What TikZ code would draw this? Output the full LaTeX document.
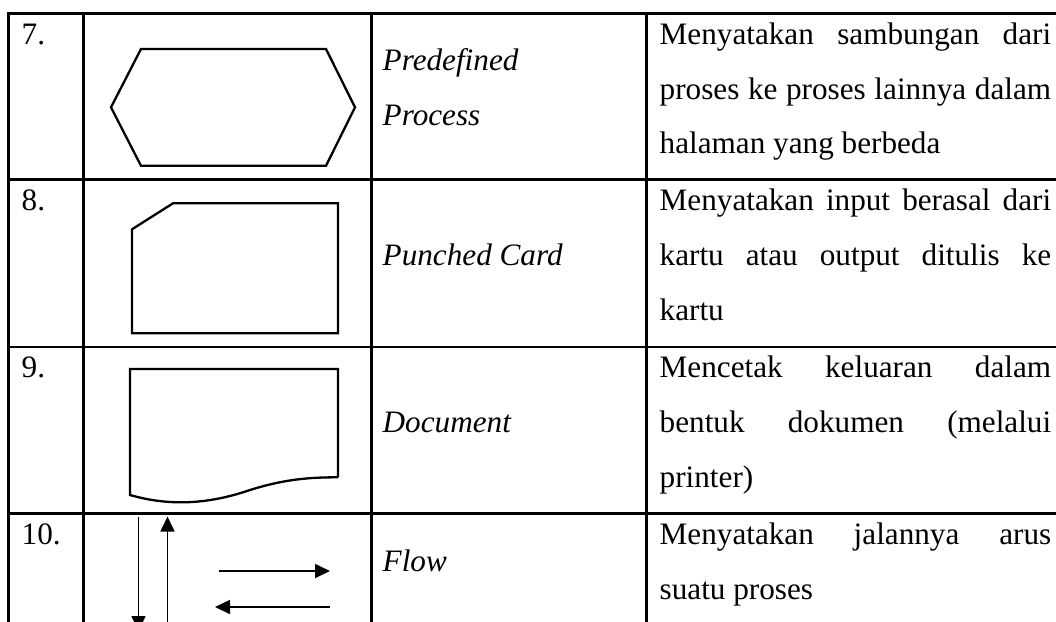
\documentclass[tikz,border=0pt]{standalone}
\usepackage{fontspec}
\setmainfont{Liberation Serif}
\usetikzlibrary{arrows.meta}
\newcommand{\jline}[1]{\makebox[391.5pt][s]{#1}}
\begin{document}
\begin{tikzpicture}[x=1pt,y=-1pt,
  gridline/.style={line width=2.4pt},
  symb/.style={line width=2.3pt, line join=miter},
  flowarrow/.style={line width=1.7pt,-{Triangle[length=15pt,width=14pt]}},
  txt/.style={anchor=base west, inner sep=0pt, font=\fontsize{31.2}{54.8}\selectfont},
  itxt/.style={txt, font=\fontsize{31.2}{54.8}\selectfont\itshape}]
\useasboundingbox (0,0) rectangle (1056,621);
\clip (0,0) rectangle (1056,621);
\fill[white] (0,0) rectangle (1056,621);
% table grid
\draw[gridline] (8.5,13.3) -- (1060,13.3);
\draw[gridline] (8.5,179.5) -- (1060,179.5);
\draw[gridline] (8.5,346.7) -- (1060,346.7);
\draw[gridline] (8.5,513.3) -- (1060,513.3);
\draw[gridline] (8.5,12.1) -- (8.5,630);
\draw[gridline] (83.5,12.1) -- (83.5,630);
\draw[gridline] (371.5,12.1) -- (371.5,630);
\draw[gridline] (646.5,12.1) -- (646.5,630);
% numbers
\node[txt] (n7) at (21.5,44.3) {7.};
\node[txt] (n8) at (21.5,210.8) {8.};
\node[txt] (n9) at (21.5,377.5) {9.};
\node[txt] (n10) at (21.5,544.3) {10.};
% symbols
\draw[symb] (111,107.3) -- (141,49) -- (326,49) -- (355,107.3) -- (326,165.8) -- (141,165.8) -- cycle;
\draw[symb] (132,229.3) -- (173,203.3) -- (338,203.3) -- (338,333.3) -- (132,333.3) -- cycle;
\draw[symb] (338,477.3) -- (338,369) -- (130,369) -- (130,495)
  .. controls (175,508) and (215,502) .. (250,490)
  .. controls (285,479) and (310,477.3) .. (338,477.3);
\coordinate (d1) at (138.5,517);
\coordinate (d2) at (138.5,631);
\coordinate (u1) at (167.5,640);
\coordinate (u2) at (167.5,516.5);
\coordinate (r1) at (219,571);
\coordinate (r2) at (330,571);
\coordinate (l1) at (330,607);
\coordinate (l2) at (215,607);
\draw[flowarrow] (d1) -- (d2);
\draw[flowarrow] (u1) -- (u2);
\draw[flowarrow] (r1) -- (r2);
\draw[flowarrow] (l1) -- (l2);
% names
\node[itxt] (p7a) at (382.5,70.7) {Predefined};
\node[itxt] (p7b) at (382.5,125.5) {Process};
\node[itxt] (p8) at (382.5,265) {Punched Card};
\node[itxt] (p9) at (382.5,432.7) {Document};
\node[itxt] (p10) at (382.5,571.7) {Flow};
% descriptions
\node[txt] (d7a) at (659.5,44.3) {\jline{Menyatakan sambungan dari}};
\node[txt] (d7b) at (659.5,99.1) {\jline{proses ke proses lainnya dalam}};
\node[txt] (d7c) at (659.5,153.9) {halaman yang berbeda};
\node[txt] (d8a) at (659.5,210.8) {\jline{Menyatakan input berasal dari}};
\node[txt] (d8b) at (659.5,265.6) {\jline{kartu atau output ditulis ke}};
\node[txt] (d8c) at (659.5,320.4) {kartu};
\node[txt] (d9a) at (659.5,377.5) {\jline{Mencetak keluaran dalam}};
\node[txt] (d9b) at (659.5,432.3) {\jline{bentuk dokumen (melalui}};
\node[txt] (d9c) at (659.5,487.1) {printer)};
\node[txt] (d10a) at (659.5,544.3) {\jline{Menyatakan jalannya arus}};
\node[txt] (d10b) at (659.5,599.1) {suatu proses};
\end{tikzpicture}
\end{document}
